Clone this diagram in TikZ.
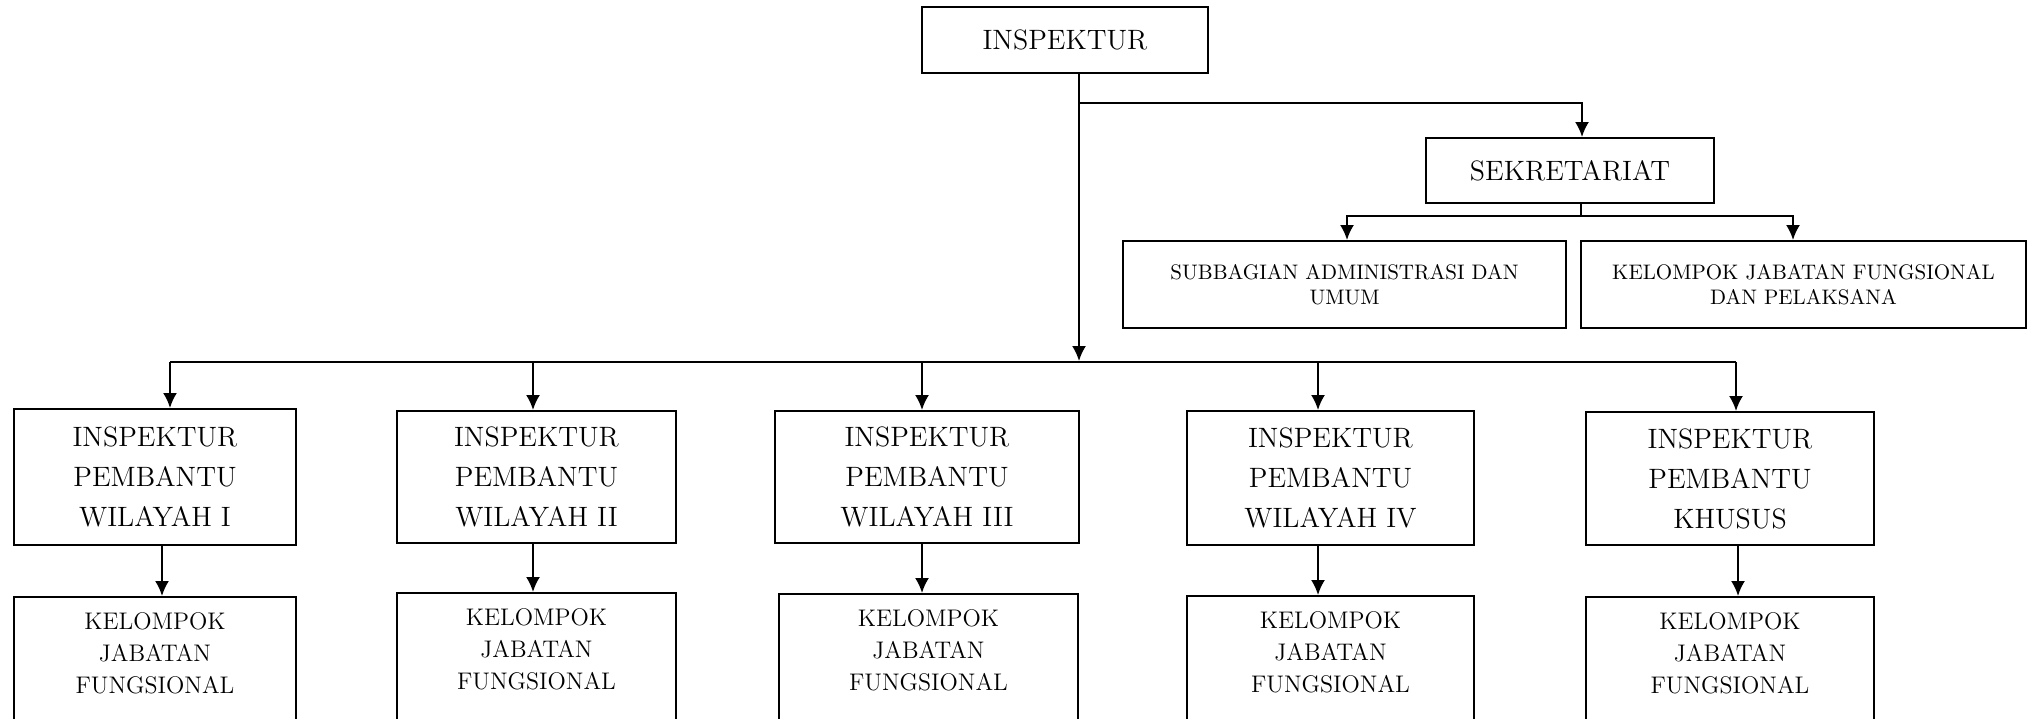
\documentclass[tikz,border=0pt]{standalone}
\usetikzlibrary{arrows.meta,positioning}

\tikzset{
  box/.style={draw, line width=1pt, align=center, inner sep=2pt},
  bigbox/.style={box, font=\fontsize{14}{20}\selectfont},
  smallbox/.style={box, font=\fontsize{10.5}{12.5}\selectfont},
  kjfbox/.style={box, anchor=north, inner ysep=8pt, font=\fontsize{12}{16}\selectfont},
  link/.style={line width=1pt},
  arr/.style={line width=1pt, -{Latex[length=7.5pt,width=7pt]}},
}

\begin{document}
\begin{tikzpicture}[x=0.5pt, y=-0.5pt]

  % Bounding box of the scheme
  \useasboundingbox (0,0) rectangle (2033,718);

  %%%%%%%%%%%%%%%%%%%%%%%%%%%%%%%%% Top of the chart %%%%%%%%%%%%%%%%%%%%%%%%%%%%%%%%%%%%
  \draw (1065,40) node[bigbox, minimum width=143pt, minimum height=33pt] (insp) {INSPEKTUR} ;
  \draw (1570,170.5) node[bigbox, minimum width=144pt, minimum height=32.5pt] (sek) {SEKRETARIAT} ;

  \draw (1344.5,284.5) node[smallbox, minimum width=221.5pt, minimum height=43.5pt] (sub)
        {SUBBAGIAN ADMINISTRASI DAN\\UMUM} ;
  \draw (1803.5,284.5) node[smallbox, minimum width=222.5pt, minimum height=43.5pt] (kjfp)
        {KELOMPOK JABATAN FUNGSIONAL\\DAN PELAKSANA} ;

  %%%%%%%%%%%%%%%%%%%%%%%%%%%%%%%%% Inspektur pembantu %%%%%%%%%%%%%%%%%%%%%%%%%%%%%%%%%%%
  \draw (155,477)    node[bigbox, minimum width=141pt, minimum height=68pt] (ipw1) {INSPEKTUR\\PEMBANTU\\WILAYAH I} ;
  \draw (536.5,477)  node[bigbox, minimum width=139.5pt, minimum height=66pt] (ipw2) {INSPEKTUR\\PEMBANTU\\WILAYAH II} ;
  \draw (927,477)    node[bigbox, minimum width=152pt, minimum height=66pt] (ipw3) {INSPEKTUR\\PEMBANTU\\WILAYAH III} ;
  \draw (1330.5,478) node[bigbox, minimum width=143.5pt, minimum height=67pt] (ipw4) {INSPEKTUR\\PEMBANTU\\WILAYAH IV} ;
  \draw (1730,478.5) node[bigbox, minimum width=144pt, minimum height=66.5pt] (ipw5) {INSPEKTUR\\PEMBANTU\\KHUSUS} ;

  % Kelompok jabatan fungsional (boxes run past the bottom edge)
  \foreach \i/\x/\y/\w in {1/155/596/141, 2/536.5/592/139.5, 3/928.5/593/149.5,
                           4/1330.5/595/143.5, 5/1730/596/144} {
    \draw (\x,\y) node[kjfbox, minimum width=\w pt] (kjf\i)
          {KELOMPOK\\JABATAN\\FUNGSIONAL\\[40pt]\strut} ;
  }

  %%%%%%%%%%%%%%%%%%%%%%%%%%%%%%%%%%%% Connectors %%%%%%%%%%%%%%%%%%%%%%%%%%%%%%%%%%%%%%%
  % Junction points
  \coordinate (c1) at (1079,103) ;
  \coordinate (c2) at (1582,103) ;
  \coordinate (bus) at (1079,361) ;
  \coordinate (bL) at (170,362) ;
  \coordinate (bR) at (1736,362) ;
  \coordinate (s1) at (1581,216) ;
  \coordinate (sL) at (1347,216) ;
  \coordinate (sR) at (1793,216) ;

  \draw[arr] (insp.south -| c1) -- (bus) ;
  \draw[arr] (c1) -- (c2) -- (sek.north -| c2) ;

  \draw[link] (sek.south -| s1) -- (s1) ;
  \draw[arr] (s1) -| (sub.north -| sL) ;
  \draw[arr] (s1) -| (kjfp.north -| sR) ;

  \draw[link] (bL) -- (bR) ;

  \foreach \i/\xa/\xb in {1/170/162, 2/533/533, 3/922/922, 4/1318/1318, 5/1736/1738} {
    \coordinate (b\i) at (\xa,362) ;
    \draw[arr] (b\i) -- (ipw\i.north -| b\i) ;
    \draw[arr] (ipw\i.south -| \xb,0) -- (kjf\i.north -| \xb,0) ;
  }

\end{tikzpicture}
\end{document}
